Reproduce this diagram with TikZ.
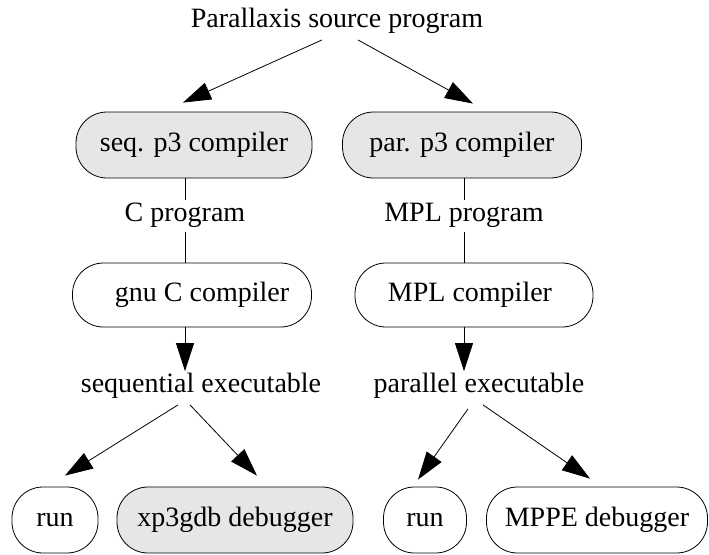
\documentclass[tikz,border=0pt]{standalone}
\usepackage{fontspec}
\setmainfont{Liberation Serif}
\usetikzlibrary{arrows.meta}
\definecolor{boxgray}{HTML}{E6E6E6}
\begin{document}
\begin{tikzpicture}[x=1pt,y=-1pt,
  every node/.style={font=\fontsize{28}{31}\selectfont, inner sep=0pt},
  pill/.style={draw, line width=0.8pt, rounded corners=31pt, minimum height=66pt},
  graypill/.style={pill, fill=boxgray},
  lbl/.style={},
  arr/.style={line width=0.8pt, -{Triangle[length=28pt,width=18pt]}},
  ln/.style={line width=0.8pt}]
\useasboundingbox (0,0) rectangle (709,554);
\node[lbl] (src) at (337,21) {Parallaxis source program};
\node[graypill, minimum width=236pt] (seq) at (194,145) {seq. p3 compiler};
\node[graypill, minimum width=239pt] (par) at (462,145) {par. p3 compiler};
\node[lbl] (cprog) at (185,215) {C program};
\node[lbl] (mplprog) at (464,215) {MPL program};
\node[pill, minimum width=239pt, minimum height=64pt] (gnu) at (192,295) {\hspace*{20pt}gnu C compiler};
\node[pill, minimum width=238pt, minimum height=64pt] (mpl) at (474,295) {MPL compiler\hspace*{8pt}};
\node[lbl] (seqexec) at (201,386) {sequential executable};
\node[lbl] (parexec) at (479,386) {parallel executable};
\node[pill, minimum width=86pt] (run1) at (55,520) {run};
\node[graypill, minimum width=236pt] (xp3) at (235,520) {xp3gdb debugger};
\node[pill, minimum width=83pt] (run2) at (425,520) {run};
\node[pill, minimum width=221pt] (mppe) at (597,520) {MPPE debugger};

\draw[arr] ([xshift=-15pt,yshift=-6pt]src.south) -- ([xshift=-11pt,yshift=9pt]seq.north);
\draw[arr] ([xshift=21pt,yshift=-6pt]src.south) -- ([xshift=11pt,yshift=8pt]par.north);
\draw[ln] (seq.south -| cprog.north) -- ([yshift=3pt]cprog.north);
\draw[ln] ([yshift=-5pt]cprog.south) -- (gnu.north -| cprog.south);
\draw[ln] (par.south -| mplprog.north) -- ([yshift=3pt]mplprog.north);
\draw[ln] ([yshift=-5pt]mplprog.south) -- (mpl.north -| mplprog.south);
\draw[arr] (gnu.south -| cprog.south) -- ([yshift=2pt]seqexec.north -| cprog.south);
\draw[arr] (mpl.south -| mplprog.south) -- ([yshift=2pt]parexec.north -| mplprog.south);
\draw[arr] ([xshift=-23pt,yshift=-6pt]seqexec.south) -- ([xshift=10pt,yshift=11pt]run1.north);
\draw[arr] ([xshift=-11pt,yshift=-6pt]seqexec.south) -- ([xshift=22pt,yshift=11pt]xp3.north);
\draw[arr] ([xshift=-11pt,yshift=-10pt]parexec.south) -- ([xshift=-7pt,yshift=7pt]run2.north);
\draw[arr] ([xshift=4pt,yshift=-6pt]parexec.south) -- ([xshift=-7pt,yshift=8pt]mppe.north);
\end{tikzpicture}
\end{document}
